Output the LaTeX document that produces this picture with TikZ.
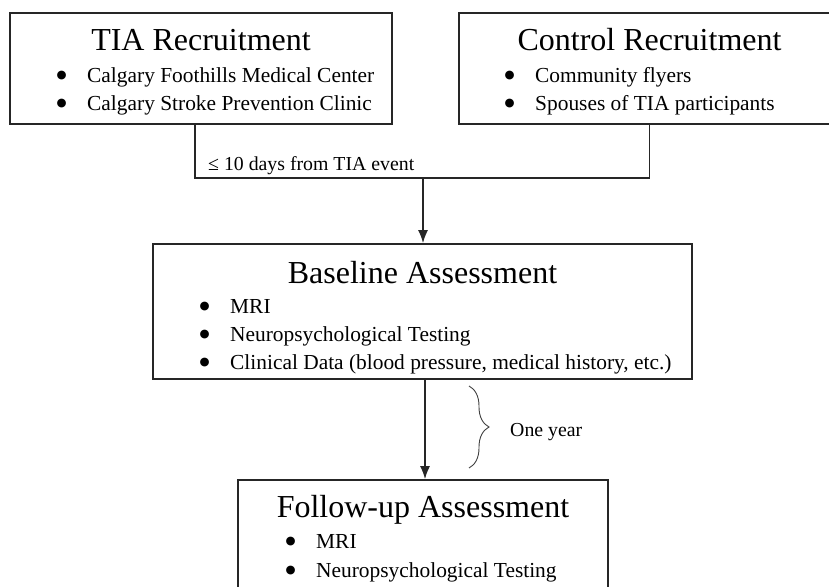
\documentclass[tikz,border=0pt]{standalone}
\usepackage{fontspec}
\setmainfont{Liberation Serif}
\newfontfamily\symfont{DejaVu Sans}
\usetikzlibrary{positioning}
\usetikzlibrary{arrows.meta}
\usetikzlibrary{decorations.pathreplacing}
\tikzset{box/.style={draw=black!85, line width=1.6pt, inner sep=0pt}}
\tikzset{ttl/.style={font=\fontsize{32}{36}\selectfont, inner sep=0pt, anchor=base}}
\tikzset{itm/.style={font=\fontsize{21.4}{26}\selectfont, inner sep=0pt, anchor=base west}}
\tikzset{lbl/.style={font=\fontsize{19.8}{24}\selectfont, inner sep=0pt, anchor=base west}}
\tikzset{ln/.style={line width=1.6pt, draw=black!85}}
\tikzset{>={Latex[length=13pt,width=10pt]}}
\newcommand{\bul}{\makebox[29pt][l]{\hspace{-1.5pt}\raisebox{3.3pt}{\symfont\fontsize{11.5}{12}\selectfont ●}}}

\begin{document}
\begin{tikzpicture}[x=1pt,y=-1pt]
        \useasboundingbox (0,0) rectangle (829,586);
        \clip (0,0) rectangle (829,586);

        % recruitment
        \node[box, minimum width=382, minimum height=111] (tia) at (201,68.5) {};
        \node[ttl] (tiat) at (201,51) {TIA Recruitment};
        \node[itm] (tia1) at (58,82) {\bul Calgary Foothills Medical Center};
        \node[itm] (tia2) at (58,110) {\bul Calgary Stroke Prevention Clinic};

        \node[box, minimum width=381, minimum height=111] (ctrl) at (649.5,68.5) {};
        \node[ttl] (ctrlt) at (649.5,51) {Control Recruitment};
        \node[itm] (ctrl1) at (506,82) {\bul Community flyers};
        \node[itm] (ctrl2) at (506,110) {\bul Spouses of TIA participants};

        % assessments
        \node[box, minimum width=539, minimum height=135] (base) at (422.5,311.5) {};
        \node[ttl] (baset) at (422.5,283) {Baseline Assessment};
        \node[itm] (base1) at (201,313) {\bul MRI};
        \node[itm] (base2) at (201,341) {\bul Neuropsychological Testing};
        \node[itm] (base3) at (201,369) {\bul Clinical Data (blood pressure, medical history, etc.)};

        \node[box, minimum width=370, minimum height=150] (fup) at (423,555) {};
        \node[ttl] (fupt) at (423,517) {Follow-up Assessment};
        \node[itm] (fup1) at (287,548) {\bul MRI};
        \node[itm] (fup2) at (287,577) {\bul Neuropsychological Testing};

        % connectors
        \coordinate (tiaout) at (195,124);
        \coordinate (join) at (423,178);
        \draw[ln] (tiaout) |- (join) -| (ctrl.south);
        \node[lbl] (days) at (208,170) {≤ 10 days from TIA event};
        \draw[ln,->] (join) -- (join |- base.north);

        \coordinate (baseout) at (425,380);
        \draw[ln,->] (baseout) -- (baseout |- fup.north);

        \coordinate (yrtop) at (469,386);
        \coordinate (yrbot) at (469,468);
        \draw[line width=0.9pt, black!75, decoration={brace, amplitude=20pt, aspect=0.5}, decorate] (yrtop) -- (yrbot);
        \node[lbl] (yr) at (510,436) {One year};
\end{tikzpicture}
\end{document}
